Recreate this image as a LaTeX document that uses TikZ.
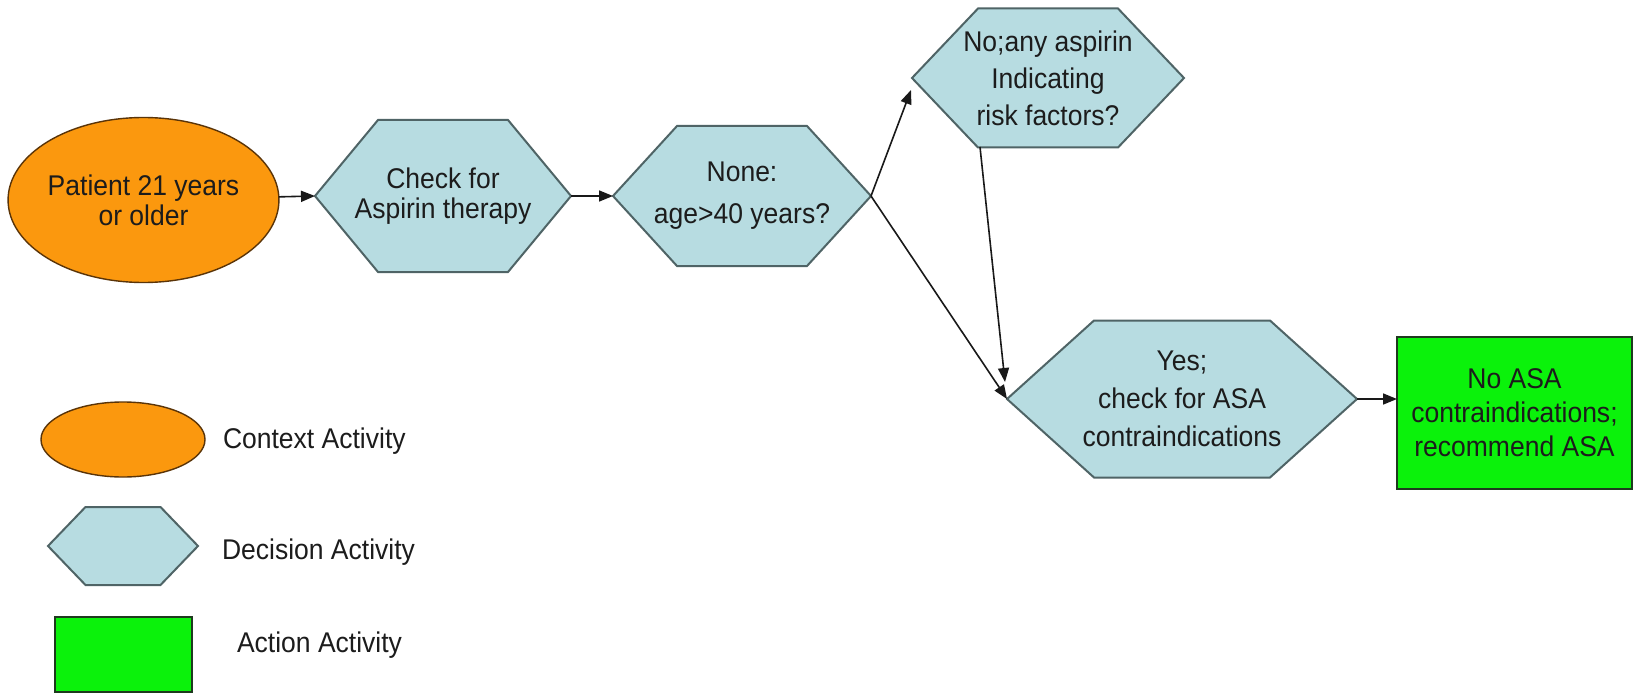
\documentclass[tikz,border=0pt]{standalone}
\usepackage{fontspec}
\setmainfont[FakeStretch=0.93]{Liberation Sans}
\usetikzlibrary{arrows.meta,shapes.geometric}

\definecolor{ctxfill}{HTML}{FB980E}
\definecolor{ctxline}{HTML}{5A3408}
\definecolor{decfill}{HTML}{B7DCE1}
\definecolor{decline}{HTML}{4F6466}
\definecolor{actfill}{HTML}{0BF20B}
\definecolor{actline}{HTML}{1E3A1E}
\definecolor{ink}{HTML}{1C1C1C}

% Decision hexagon: name, centre x, centre y, half width, half top edge, half height, text
\newcommand\dechex[7]{%
  \path[decpath] ({#2-#4},#3) -- ({#2-#5},{#3-#6}) -- ({#2+#5},{#3-#6})
     -- ({#2+#4},#3) -- ({#2+#5},{#3+#6}) -- ({#2-#5},{#3+#6}) -- cycle;
  \coordinate (#1-l) at ({#2-#4},#3);
  \coordinate (#1-r) at ({#2+#4},#3);
  \node[lbl] (#1) at (#2,#3) {#7};
}

\begin{document}
\begin{tikzpicture}[x=1pt,y=-1pt,
  every node/.style={inner sep=0pt, outer sep=0pt},
  lbl/.style={font=\fontsize{28.5}{36}\selectfont, text=ink, align=center},
  ctx/.style={ellipse, fill=ctxfill, draw=ctxline, line width=1.4pt},
  decpath/.style={fill=decfill, draw=decline, line width=2pt, line join=miter},
  act/.style={rectangle, fill=actfill, draw=actline, line width=1.4pt},
  flow/.style={-{Triangle[length=14pt,width=11pt]}, line width=1.6pt, draw=black!90}]

\useasboundingbox[fill=white] (0,0) rectangle (1635,695);

% main flow
\node[ctx, minimum width=259pt, minimum height=165pt, lbl] (e1) at (143.5,200)
  {Patient 21 years\\[-6pt]or older};
\dechex{h1}{443}{196}{128}{65}{76}{Check for\\[-6pt]Aspirin therapy}
\dechex{h2}{742}{196}{129}{65}{70}{None:\\[6pt]age>40 years?}
\dechex{h3}{1048}{78}{136}{70}{69.5}{No;any aspirin\\[1pt]Indicating\\[1pt]risk factors?}
\dechex{h4}{1182}{399}{175}{88}{78.5}{Yes;\\[2pt]check for ASA\\[2pt]contraindications}
\node[act, minimum width=235pt, minimum height=152pt, lbl] (a1) at (1514.5,413)
  {No ASA\\[-2pt]contraindications;\\[-2pt]recommend ASA};

% connector end points
\coordinate (h3-in) at (911,90);
\coordinate (h3-out) at (980,147);
\coordinate (h4-in) at (1005,382);

\draw[flow] (e1) -- (h1-l);
\draw[flow] (h1-r) -- (h2-l);
\draw[flow] (h2-r) -- (h3-in);
\draw[flow] (h2-r) -- (h4-l);
\draw[flow] (h3-out) -- (h4-in);
\draw[flow] (h4-r) -- (a1.west |- h4-r);

% legend
\node[ctx, minimum width=164pt, minimum height=75pt] (k1) at (123,439.5) {};
\node[lbl, anchor=west] (k1t) at (223,441) {Context Activity};
\dechex{k2}{123}{546}{75}{37.5}{39}{}
\node[lbl, anchor=west] (k2t) at (222,552) {Decision Activity};
\node[act, minimum width=137pt, minimum height=75pt] (k3) at (123.5,654.5) {};
\node[lbl, anchor=west] (k3t) at (237,645) {Action Activity};
\end{tikzpicture}
\end{document}
